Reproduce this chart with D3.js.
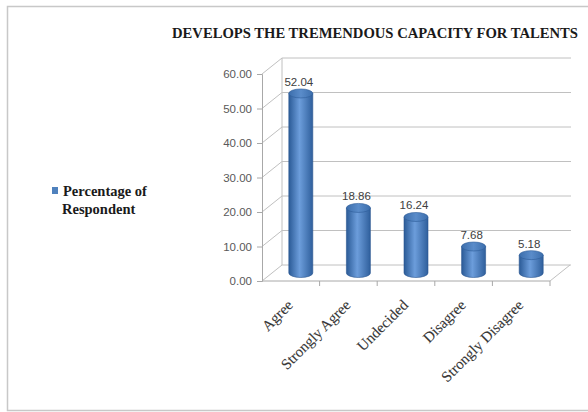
<!DOCTYPE html>
<html>
<head>
<meta charset="utf-8">
<script src="https://cdn.jsdelivr.net/npm/d3@7"></script>
<style>
  body { margin: 0; background: #fff; }
  svg { display: block; }
</style>
</head>
<body>
<div id="chart"></div>
<script>
// chart data
const categories = ['Agree', 'Strongly Agree', 'Undecided', 'Disagree', 'Strongly Disagree'];
const values = [52.04, 18.86, 16.24, 7.68, 5.18];
const yTicks = [0, 10, 20, 30, 40, 50, 60];
const seriesName = ['Percentage of', 'Respondent'];
const title = 'DEVELOPS THE TREMENDOUS CAPACITY FOR TALENTS';

const W = 588, H = 412;
const svg = d3.select('#chart').append('svg')
    .attr('width', W)
    .attr('height', H);

// outer frame (right side runs off the picture)
svg.append('path')
    .attr('d', 'M620,6.5 H7.5 V410.5 H620')
    .attr('fill', 'none')
    .attr('stroke', '#c8c8c8')
    .attr('stroke-width', 1.5);

// scales
const x = d3.scaleBand().domain(categories).range([262, 550]);
const y = d3.scaleLinear().domain([0, 60]).range([281, 74]);
const dx = 20, dy = -16; // depth of the 3d box

const grid = svg.append('g').attr('stroke', '#c0c0c0').attr('fill', 'none');

// back wall gridlines + side wall diagonals
yTicks.forEach(t => {
    grid.append('line')
        .attr('x1', 262 + dx).attr('y1', y(t) + dy)
        .attr('x2', 550 + dx + 1).attr('y2', y(t) + dy);
    grid.append('line')
        .attr('x1', 262).attr('y1', y(t))
        .attr('x2', 262 + dx).attr('y2', y(t) + dy);
});
grid.append('line')
    .attr('x1', 262 + dx).attr('y1', y(0) + dy)
    .attr('x2', 262 + dx).attr('y2', y(60) + dy);

// floor
grid.append('line')
    .attr('x1', 550).attr('y1', y(0))
    .attr('x2', 550 + dx).attr('y2', y(0) + dy);

// y axis
const yAxis = d3.axisLeft(y).tickValues(yTicks).tickSize(5).tickPadding(5)
    .tickFormat(d3.format('.2f'));
const gy = svg.append('g').attr('transform', 'translate(262,0)').call(yAxis);
gy.select('.domain').attr('stroke', '#a8a8a8');
gy.selectAll('.tick line').attr('stroke', '#a8a8a8');
gy.selectAll('.tick text')
    .attr('fill', '#595959')
    .attr('font-family', 'Liberation Sans, Arial, sans-serif')
    .attr('font-size', 11.5);

// x axis (front floor line), ticks on band edges
const gx = svg.append('g').attr('transform', `translate(0,${y(0)})`);
gx.append('line').attr('x1', 262).attr('x2', 550).attr('stroke', '#a8a8a8');
categories.forEach(c => {
    gx.append('line')
        .attr('x1', x(c) + x.bandwidth()).attr('x2', x(c) + x.bandwidth())
        .attr('y1', 0).attr('y2', 5)
        .attr('stroke', '#a8a8a8');
});

// category labels
svg.append('g').selectAll('text')
    .data(categories)
    .join('text')
    .attr('transform', d => `translate(${x(d) + x.bandwidth() / 2 + 3},${y(0) + 25}) rotate(-45)`)
    .attr('text-anchor', 'end')
    .attr('font-family', 'Liberation Serif, Times New Roman, serif')
    .attr('font-size', 15)
    .attr('fill', '#3a3a3a')
    .attr('stroke', 'rgba(0,0,0,0.15)')
    .attr('stroke-width', 0.6)
    .text(d => d);

// cylinder gradients
const defs = svg.append('defs');
const sideGrad = defs.append('linearGradient').attr('id', 'side')
    .attr('x1', '0%').attr('x2', '100%').attr('y1', '0%').attr('y2', '0%');
sideGrad.append('stop').attr('offset', '0%').attr('stop-color', '#2b5b97');
sideGrad.append('stop').attr('offset', '45%').attr('stop-color', '#6c9ddb');
sideGrad.append('stop').attr('offset', '100%').attr('stop-color', '#2f5f9c');
const capGrad = defs.append('linearGradient').attr('id', 'cap')
    .attr('x1', '0%').attr('x2', '100%').attr('y1', '0%').attr('y2', '0%');
capGrad.append('stop').attr('offset', '0%').attr('stop-color', '#3c6eac');
capGrad.append('stop').attr('offset', '50%').attr('stop-color', '#5a8cca');
capGrad.append('stop').attr('offset', '100%').attr('stop-color', '#3c6eac');

const rx = 12, ry = 4.5;
const bars = svg.append('g').selectAll('g')
    .data(categories.map((c, i) => ({ c, v: values[i] })))
    .join('g');

bars.each(function(d) {
    const g = d3.select(this);
    const cx = x(d.c) + x.bandwidth() / 2 + dx / 2;
    const yb = y(0) + dy / 2;
    const yt = y(d.v) + dy / 2;
    g.append('path')
        .attr('d', `M${cx - rx},${yt} V${yb} A${rx},${ry} 0 0 0 ${cx + rx},${yb} V${yt} Z`)
        .attr('fill', 'url(#side)')
        .attr('stroke', '#2a5690')
        .attr('stroke-width', 0.6);
    g.append('ellipse')
        .attr('cx', cx).attr('cy', yt)
        .attr('rx', rx).attr('ry', ry)
        .attr('fill', 'url(#cap)')
        .attr('stroke', '#2e5d98')
        .attr('stroke-width', 0.6);
    g.append('text')
        .attr('x', cx - 2).attr('y', yt - ry - 3)
        .attr('text-anchor', 'middle')
        .attr('font-family', 'Liberation Sans, Arial, sans-serif')
        .attr('font-size', 11.5)
        .attr('fill', '#404040')
        .text(d3.format('.2f')(d.v));
});

// title
svg.append('text')
    .attr('x', 172).attr('y', 38)
    .attr('font-family', 'Liberation Serif, Times New Roman, serif')
    .attr('font-weight', 'bold')
    .attr('font-size', 14.5)
    .attr('fill', '#1a1a1a')
    .attr('textLength', 406)
    .attr('lengthAdjust', 'spacingAndGlyphs')
    .text(title);

// legend
svg.append('rect')
    .attr('x', 52).attr('y', 187).attr('width', 6).attr('height', 7)
    .attr('fill', '#4f81bd');
svg.append('text')
    .attr('font-family', 'Liberation Serif, Times New Roman, serif')
    .attr('font-weight', 'bold')
    .attr('font-size', 14.5)
    .attr('fill', '#1a1a1a')
    .selectAll('tspan')
    .data(seriesName)
    .join('tspan')
    .attr('x', (d, i) => i === 0 ? 63 : 62)
    .attr('y', (d, i) => 196 + i * 18)
    .text(d => d);
</script>
</body>
</html>
